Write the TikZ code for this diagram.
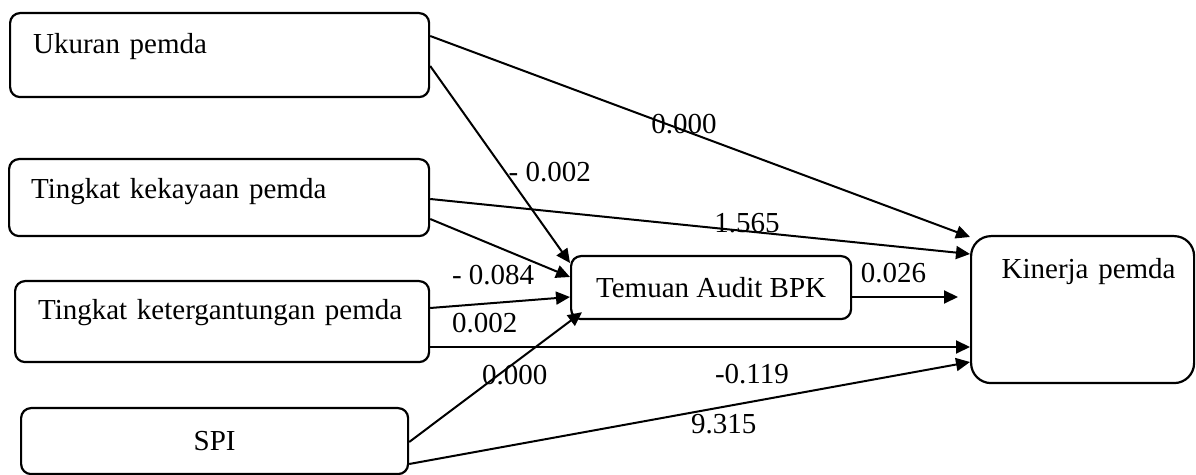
\documentclass[tikz,border=0pt]{standalone}
\usepackage{fontspec}
\setmainfont{Liberation Serif}
\usepackage{tikz}
\usetikzlibrary{arrows.meta,calc,positioning}
\tikzset{
  varbox/.style={rectangle,draw,rounded corners=5pt,line width=1.1pt,
                 inner ysep=0pt,inner xsep=11.5pt,align=left,anchor=north west},
  midbox/.style={rectangle,draw,rounded corners=5pt,line width=1.1pt,
                 inner sep=0pt,align=center,anchor=north west},
  arr/.style={-{Triangle[length=7pt,width=6.5pt]},line width=1pt},
  coef/.style={inner sep=0pt},
}

\begin{document}
\begin{tikzpicture}[x=0.5pt,y=-0.5pt,font=\fontsize{14.5}{17}\selectfont]
  \useasboundingbox (0,0) rectangle (1196,475);
  %% Independent variables
  \node[varbox,text width=186.5pt,text height=20pt,text depth=22pt] (uk) at (9,12)
    {Ukuran pemda};
  \node[varbox,inner xsep=11pt,text width=188pt,text height=19.5pt,text depth=19pt] (kk) at (8,158)
    {Tingkat kekayaan pemda};
  \node[varbox,text width=184pt,text height=19pt,text depth=21.5pt] (kt) at (14,280)
    {Tingkat ketergantungan pemda};
  \node[midbox,minimum width=193.5pt,minimum height=33pt] (spi) at (20,407) {SPI};
  %% Intervening and dependent variables
  \node[midbox,minimum width=140pt,minimum height=31.5pt] (tm) at (570,255)
    {Temuan Audit BPK};
  \node[varbox,rounded corners=10pt,inner xsep=0pt,align=center,text width=111.5pt,
        text height=21pt,text depth=52.5pt] (kp) at (970,235)
    {\hspace*{6pt}Kinerja pemda};

  %% Paths to Kinerja pemda
  \draw[arr] ($(uk.north east)+(0,24)$) --
    node[coef,pos=0.47,yshift=3pt]{0.000} ($(kp.north west)+(0,2)$);
  \draw[arr] ($(kk.north east)+(0,41)$) --
    node[coef,pos=0.587,yshift=4pt]{1.565} ($(kp.north west)+(0,19)$);
  \draw[arr] ($(kt.north east)+(0,67)$) --
    node[coef,pos=0.596,yshift=-13.5pt]{-0.119} ($(kp.north west)+(0,112)$);
  \draw[arr] ($(spi.north east)+(0,57)$) --
    node[coef,pos=0.561,yshift=-8.5pt]{9.315} ($(kp.north west)+(0,127)$);
  \draw[arr] ($(tm.north east)+(0,42)$) --
    node[coef,pos=0.39,yshift=12pt]{0.026} ($(kp.north west)+(-12,62)$);

  %% Paths to Temuan Audit BPK
  \draw[arr] ($(uk.north east)+(0,54)$) --
    node[coef,pos=0.54,anchor=west,xshift=1pt]{- 0.002} ($(tm.north west)+(0,8)$);
  \draw[arr] ($(kk.north east)+(0,61)$) --
    node[coef,pos=0.45,yshift=-15pt]{- 0.084} ($(tm.north west)+(0,22)$);
  \draw[arr] ($(kt.north east)+(0,28)$) --
    node[coef,pos=0.39,yshift=-9.5pt]{0.002} ($(tm.north west)+(0,42)$);
  \draw[arr] ($(spi.north east)+(0,35)$) --
    node[coef,pos=0.611,yshift=-6pt]{0.000} ($(tm.south west)+(12,-8)$);

\end{tikzpicture}
\end{document}
